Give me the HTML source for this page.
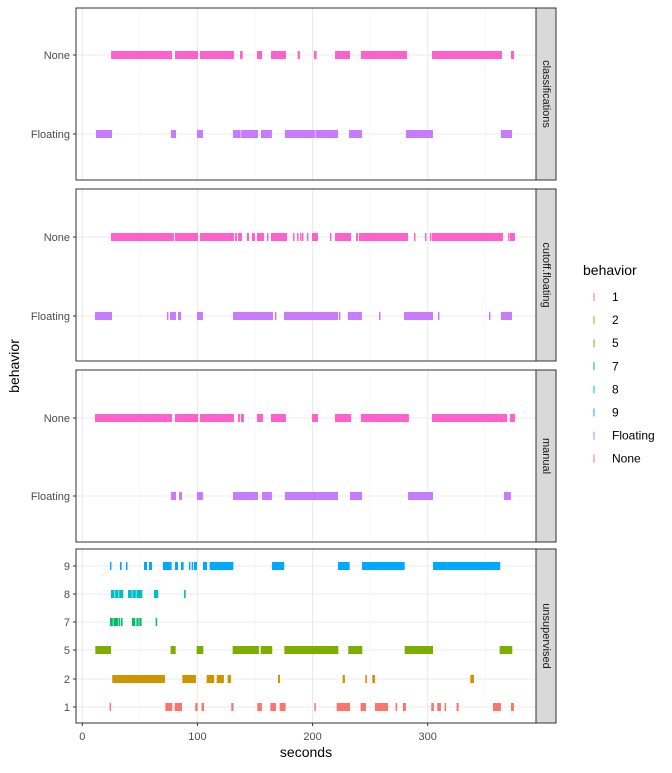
<!DOCTYPE html>
<html><head><meta charset="utf-8">
<style>
body{margin:0;background:#fff;font-family:"Liberation Sans",sans-serif;}
svg text{font-family:"Liberation Sans",sans-serif;}
</style></head>
<body>
<svg id="chart" width="672" height="768" xmlns="http://www.w3.org/2000/svg"></svg>
<script>
const xTicks = [0, 100, 200, 300];
const panelNames = ["classifications", "cutoff.floating", "manual", "unsupervised"];
const p1None = [[25,77.9],[80.5,100.5],[102.2,131.7],[137,139.3],[151.7,156.1],[163.9,176.9],[187,189],[201.2,203.5],[219.5,232.5],[242,282],[303.7,364.5],[372.3,375]];
const p1Float = [[11.9,25.8],[77,81.4],[99.6,104.8],[130.9,137.5],[138,152.6],[155.2,164.7],[176,202],[202.5,222.1],[231.6,242.9],[281.1,304.6],[363.6,373.2]];
const p2None = [[24.9,79.6],[80.5,100.5],[102.2,131.7],[132.6,134.3],[135.2,138.7],[143,144.8],[147.4,150],[151.7,157.8],[160.4,161.3],[163.9,177.8],[183,183.8],[186.5,187.3],[189.1,189.9],[190.8,191.7],[195.1,196],[199.5,204.7],[215.1,216],[219.5,233.4],[237.7,239.4],[240.3,282.9],[288.1,288.9],[297.6,298.5],[301.9,302.8],[303.7,365.4],[369.8,370.6],[371.5,375.8]];
const p2Float = [[11,25.8],[73.5,74.4],[76.1,81.4],[83.1,85.7],[99.6,104.8],[130.9,165.6],[167.3,168.2],[175.2,222.1],[222.9,223.8],[230.7,242.9],[257.7,258.5],[279.4,304.6],[308.9,309.8],[353.2,354.1],[363.6,373.2]];
const p3None = [[11,77.9],[80.5,100.5],[102.2,131.7],[135.2,136.9],[137.8,140.4],[151.7,156.9],[163.9,176.9],[199.5,204.7],[219.5,233.4],[242,283.7],[303.7,368.9],[371.5,375.8]];
const p3Float = [[77,81.4],[84,86.6],[99.6,104.8],[130.9,152.6],[156.1,164.7],[176,222.1],[232.5,242.9],[282.9,304.6],[366.2,372.3]];
const u9 = [[24,24.9],[32.7,34.2],[37.9,39.1],[53.6,56.2],[57.9,60.5],[70,77.6],[80.5,83.1],[85.7,88],[92.6,93.8],[95,96.1],[97,99.6],[104.8,108.3],[110.6,131.2],[164.7,175.4],[222.1,232.2],[242.9,280],[304.6,363]];
const u8 = [[24.9,28],[28.5,31.5],[32,35.6],[39.7,43],[43.5,46.5],[47,52.1],[62.2,66],[88.3,89.8]];
const u7 = [[24,26.5],[27,31],[31.5,32.5],[33.5,35],[43.1,46],[47,49],[49.5,51.5],[63.7,64.9]];
const u5 = [[11.3,24.9],[76.7,81.1],[99.3,105.1],[130.6,153.4],[154.9,165],[175.5,222.4],[231,243.2],[280,304.6],[362.5,373.5]];
const u2 = [[26,71.8],[86.9,98.7],[108,114.6],[116.7,123],[126.2,129.1],[170,171.7],[226.1,228.1],[245.8,247.2],[251.9,254.2],[337,340.2]];
const u1 = [[23.7,24.9],[72.1,78.2],[80.2,86.6],[98.1,100.2],[103.6,105.7],[129.4,131.4],[152,156],[163.3,168.2],[171.4,176.6],[201.5,202.7],[220.9,232.5],[241.7,246.4],[254.2,265.5],[272.1,273.3],[278.5,281.1],[303.1,305.4],[308.3,311.5],[314.7,315.9],[325.1,326.9],[356.7,363.6],[372.3,374.9]];
const legendLabels = ["1","2","5","7","8","9","Floating","None"];
const legendColors = ["#F8766D","#CD9600","#7CAE00","#00BE67","#00BFC4","#00A9FF","#C77CFF","#FF61CC"];

const NS = "http://www.w3.org/2000/svg";
const svg = document.getElementById("chart");
function mk(tag, attrs, parent){const e=document.createElementNS(NS,tag);for(const k in attrs)e.setAttribute(k,attrs[k]);(parent||svg).appendChild(e);return e;}
const X0=76, X1=536;
function xs(v){return 82.3 + v*1.1513;}
const colorOf = {};
legendLabels.forEach((l,i)=>colorOf[l]=legendColors[i]);

const panels = [
  {top:8,bot:180,rows:[{lab:"None",y:55,d:p1None},{lab:"Floating",y:134,d:p1Float}]},
  {top:189,bot:361,rows:[{lab:"None",y:237,d:p2None},{lab:"Floating",y:316,d:p2Float}]},
  {top:370,bot:542,rows:[{lab:"None",y:418,d:p3None},{lab:"Floating",y:496,d:p3Float}]},
  {top:549,bot:723,rows:[{lab:"9",y:566,d:u9},{lab:"8",y:594,d:u8},{lab:"7",y:622,d:u7},{lab:"5",y:650,d:u5},{lab:"2",y:679,d:u2},{lab:"1",y:707,d:u1}]}
];
panels.forEach((p,pi)=>{
  const g=mk("g",{});
  
  
  for(let v=0; v<=350; v+=50){
    const gl=mk("line",{x1:xs(v),x2:xs(v),y1:p.top,y2:p.bot,stroke:v%100===0?"#ebebeb":"#f2f2f2","stroke-width":v%100===0?1.1:0.6},g);
    
    
  }
  p.rows.forEach(r=>{
    const hl=mk("line",{x1:X0,x2:X1,y1:r.y,y2:r.y,stroke:"#ebebeb","stroke-width":1.1},g);
    
    
    const tk=mk("line",{x1:X0-3,x2:X0,y1:r.y,y2:r.y,stroke:"#333","stroke-width":1},g);
    
    
    const t=mk("text",{x:X0-6,y:r.y+4,"text-anchor":"end","font-size":11,fill:"#4d4d4d"},g);
    t.textContent=r.lab;
    
    
    r.d.forEach(seg=>{
      const b=mk("rect",{x:xs(seg[0]),y:r.y-4,width:Math.max(1.5,xs(seg[1])-xs(seg[0])),height:8,fill:colorOf[r.lab]},g);
      
      
    });
  });
  const bd=mk("rect",{x:X0,y:p.top,width:X1-X0,height:p.bot-p.top,fill:"none",stroke:"#333","stroke-width":1},g);
  
  
  const st=mk("rect",{x:X1,y:p.top,width:20,height:p.bot-p.top,fill:"#d9d9d9",stroke:"#333","stroke-width":1},g);
  
  
  const cy=(p.top+p.bot)/2;
  const stt=mk("text",{x:X1+10,y:cy,"text-anchor":"middle","font-size":11,fill:"#1a1a1a",transform:`rotate(90 ${X1+10} ${cy})`,"dominant-baseline":"central"},g);
  stt.textContent=panelNames[pi];
  
  
});
xTicks.forEach(v=>{
  const tk=mk("line",{x1:xs(v),x2:xs(v),y1:723,y2:726,stroke:"#333"});
  
  
  const t=mk("text",{x:xs(v),y:740,"text-anchor":"middle","font-size":11,fill:"#4d4d4d"});
  t.textContent=v;
  
  
});
const xt=mk("text",{x:306,y:757,"text-anchor":"middle","font-size":14,fill:"#000"});
xt.textContent="seconds";


const yt=mk("text",{x:19,y:366,"text-anchor":"middle","font-size":14,fill:"#000",transform:"rotate(-90 19 366)"});
yt.textContent="behavior";


const lt=mk("text",{x:583,y:275,"font-size":14,fill:"#000"});
lt.textContent="behavior";


legendLabels.forEach((l,i)=>{
  const y=297+i*23.1;
  const k=mk("line",{x1:594,x2:594,y1:y-4,y2:y+4,stroke:legendColors[i],"stroke-width":1});
  
  
  const t=mk("text",{x:612,y:y+4,"font-size":12,fill:"#000"});
  t.textContent=l;
  
  
});
</script>
</body></html>
